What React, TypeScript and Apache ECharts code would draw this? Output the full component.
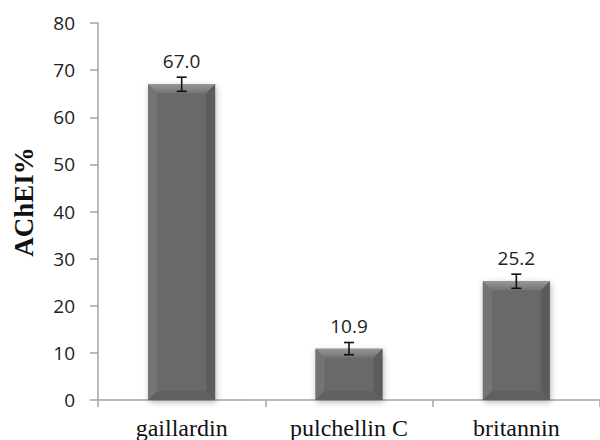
import React, { useEffect, useRef } from "react";
import * as echarts from "echarts";

const categories = ["gaillardin", "pulchellin C", "britannin"];
const values = [67.0, 10.9, 25.2];
const errors = [1.5, 1.3, 1.5];
const yTicks = { min: 0, max: 80, interval: 10 };
const yTitle = "AChEI%";

export default function App() {
  const ref = useRef<HTMLDivElement>(null);
  useEffect(() => {
    if (!ref.current) return;
    const chart = echarts.init(ref.current, null, { renderer: "svg" });
    const data = values.map((v, i) => [i, v, errors[i]]);
    const axisColor = "#a3a3a3";

    const renderBar = (params: any, api: any) => {
      const idx = api.value(0);
      const v = api.value(1);
      const top = api.coord([idx, v]);
      const base = api.coord([idx, 0]);
      const band = api.size([1, 0])[0];
      const w = band * 0.4;
      const x0 = top[0] - w / 2;
      const x1 = top[0] + w / 2;
      const y0 = top[1];
      const y1 = base[1];
      const b = Math.min(9, (y1 - y0) / 3);
      return {
        type: "group",
        children: [
          {
            type: "rect",
            shape: { x: x0, y: y0, width: w, height: y1 - y0 },
            style: {
              fill: "#69696b",
              shadowBlur: 6,
              shadowColor: "rgba(0,0,0,0.3)",
              shadowOffsetX: 1,
              shadowOffsetY: 2,
            },
          },
          {
            type: "polygon",
            shape: { points: [[x0, y0], [x1, y0], [x1 - b, y0 + b], [x0 + b, y0 + b]] },
            style: {
              fill: new echarts.graphic.LinearGradient(0, 0, 0, 1, [
                { offset: 0, color: "#98989a" },
                { offset: 1, color: "#737375" },
              ]),
            },
          },
          {
            type: "polygon",
            shape: { points: [[x0, y0], [x0 + b, y0 + b], [x0 + b, y1 - b], [x0, y1]] },
            style: { fill: "#747476" },
          },
          {
            type: "polygon",
            shape: { points: [[x1, y0], [x1 - b, y0 + b], [x1 - b, y1 - b], [x1, y1]] },
            style: { fill: "#5c5c5e" },
          },
          {
            type: "polygon",
            shape: { points: [[x0, y1], [x0 + b, y1 - b], [x1 - b, y1 - b], [x1, y1]] },
            style: { fill: "#606062" },
          },
        ],
      };
    };

    const renderErr = (params: any, api: any) => {
      const idx = api.value(0);
      const v = api.value(1);
      const e = api.value(2);
      const hi = api.coord([idx, v + e]);
      const lo = api.coord([idx, v - e]);
      const cx = hi[0];
      const cap = 5;
      const ls = { stroke: "#111", lineWidth: 1.6 };
      return {
        type: "group",
        children: [
          { type: "line", shape: { x1: cx, y1: hi[1], x2: cx, y2: lo[1] }, style: ls },
          { type: "line", shape: { x1: cx - cap, y1: hi[1], x2: cx + cap, y2: hi[1] }, style: ls },
          { type: "line", shape: { x1: cx - cap, y1: lo[1], x2: cx + cap, y2: lo[1] }, style: ls },
          {
            type: "text",
            style: {
              x: cx,
              y: hi[1] - 7,
              text: v.toFixed(1),
              align: "center",
              verticalAlign: "bottom",
              fontSize: 19,
              fontFamily: "Open Sans",
              fill: "#222",
            },
          },
        ],
      };
    };

    chart.setOption({
      animation: false,
      backgroundColor: "#fff",
      grid: { left: 98, right: 0, top: 23, bottom: 39 },
      xAxis: {
        type: "category",
        data: categories,
        axisLine: { show: true, lineStyle: { color: axisColor, width: 1.5 } },
        axisTick: { show: true, length: 7, lineStyle: { color: axisColor, width: 1.5 } },
        axisLabel: {
          margin: 16,
          fontFamily: "'Liberation Serif', 'DejaVu Serif', serif",
          fontSize: 24,
          color: "#111",
        },
      },
      yAxis: {
        type: "value",
        min: yTicks.min,
        max: yTicks.max,
        interval: yTicks.interval,
        axisLine: { show: true, lineStyle: { color: axisColor, width: 1.5 } },
        axisTick: { show: true, length: 8, lineStyle: { color: axisColor, width: 1.5 } },
        splitLine: { show: false },
        axisLabel: {
          margin: 23,
          fontFamily: "Open Sans",
          fontSize: 19,
          color: "#222",
        },
      },
      graphic: [
        {
          type: "text",
          x: 24,
          y: 202,
          rotation: Math.PI / 2,
          style: {
            text: yTitle,
            align: "center",
            verticalAlign: "middle",
            fontFamily: "'Liberation Serif', serif",
            fontWeight: "bold",
            fontSize: 27,
            fill: "#111",
          },
        },
      ],
      series: [
        {
          type: "custom",
          renderItem: renderBar,
          encode: { x: 0, y: 1 },
          data,
          z: 2,
        },
        {
          type: "custom",
          renderItem: renderErr,
          encode: { x: 0, y: 1 },
          data,
          z: 3,
        },
      ],
    });
    return () => chart.dispose();
  }, []);
  return (
    <div
      ref={ref}
      style={{ position: "fixed", left: 0, top: 0, width: 600, height: 440 }}
    />
  );
}
